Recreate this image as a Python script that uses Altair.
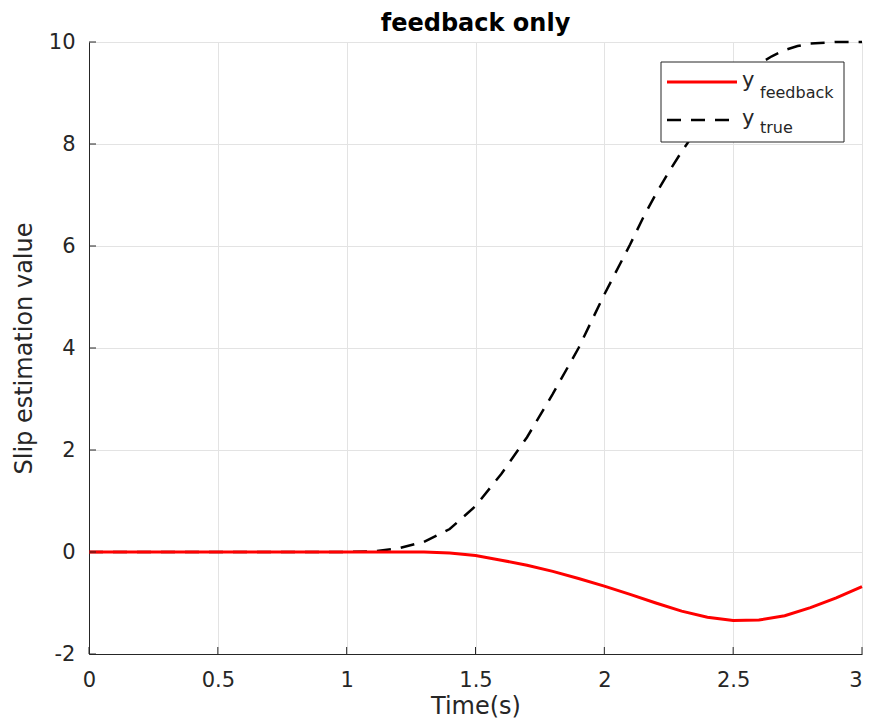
import altair as alt
import pandas as pd

# ---- data ----
t_true = [0.0, 0.5, 1.0, 1.1, 1.2, 1.3, 1.4, 1.5, 1.6, 1.7, 1.8, 1.9, 2.0,
          2.1, 2.15, 2.2, 2.25, 2.3, 2.35, 2.4, 2.45, 2.5, 2.55, 2.6, 2.65,
          2.7, 2.75, 2.8, 2.9, 3.0]
y_true = [0.0, 0.0, 0.0, 0.01, 0.07, 0.2, 0.45, 0.9, 1.53, 2.25, 3.1, 4.0, 5.05,
          6.03, 6.55, 7.02, 7.45, 7.85, 8.22, 8.57, 8.88, 9.15, 9.38, 9.57, 9.72,
          9.84, 9.92, 9.97, 10.0, 10.0]

t_fb = [0.0, 1.0, 1.3, 1.4, 1.5, 1.6, 1.7, 1.8, 1.9, 2.0, 2.1, 2.2, 2.3,
        2.4, 2.5, 2.6, 2.7, 2.8, 2.9, 3.0]
y_fb = [0.0, 0.0, 0.0, -0.02, -0.07, -0.16, -0.26, -0.38, -0.52, -0.67, -0.83, -1.0,
        -1.16, -1.28, -1.345, -1.335, -1.25, -1.09, -0.9, -0.68]

x_ticks = [0, 0.5, 1, 1.5, 2, 2.5, 3]
y_ticks = [-2, 0, 2, 4, 6, 8, 10]

title_text = "feedback only"
x_title = "Time(s)"
y_title = "Slip estimation value"
leg_main = ["y", "y"]
leg_sub = ["feedback", "true"]

W, H = 773, 612
FONT = "DejaVu Sans"
AX = "#262626"

df_true = pd.DataFrame({"t": t_true, "y": y_true})
df_fb = pd.DataFrame({"t": t_fb, "y": y_fb})
df_xt = pd.DataFrame({"t": x_ticks})
df_yt = pd.DataFrame({"y": y_ticks})
one = pd.DataFrame({"k": [0]})

xs = alt.Scale(domain=[0, 3], nice=False, zero=False)
ys = alt.Scale(domain=[-2, 10], nice=False, zero=False)

xaxis = alt.Axis(values=x_ticks, title=x_title, grid=True, gridColor="#e3e3e3",
                 labelExpr="'' + datum.value",
                 labelAlign={"expr": "datum.value == 3 ? 'right' : 'center'"},
                 tickSize=0, domainColor=AX, labelColor=AX, titleColor=AX,
                 labelFontSize=21, titleFontSize=24, labelPadding=15, titlePadding=4,
                 labelFont=FONT, titleFont=FONT, titleFontWeight="normal",
                 labelFlush=False)
yaxis = alt.Axis(values=y_ticks, title=y_title, grid=True, gridColor="#e3e3e3",
                 labelExpr="'' + datum.value",
                 tickSize=0, domainColor=AX, labelColor=AX, titleColor=AX,
                 labelFontSize=21, titleFontSize=24, labelPadding=14, titlePadding=12,
                 labelFont=FONT, titleFont=FONT, titleFontWeight="normal",
                 labelFlush=False)

base_true = alt.Chart(df_true).mark_line(color="black", strokeWidth=2.5,
                                         strokeDash=[14, 10]).encode(
    x=alt.X("t:Q", scale=xs, axis=xaxis),
    y=alt.Y("y:Q", scale=ys, axis=yaxis),
)
line_fb = alt.Chart(df_fb).mark_line(color="#ff0000", strokeWidth=3).encode(
    x=alt.X("t:Q", scale=xs),
    y=alt.Y("y:Q", scale=ys),
)

xticks = alt.Chart(df_xt).mark_rule(color=AX, strokeWidth=1).encode(
    x=alt.X("t:Q", scale=xs), y=alt.value(H), y2=alt.value(H - 7))
yticks = alt.Chart(df_yt).mark_rule(color=AX, strokeWidth=1).encode(
    y=alt.Y("y:Q", scale=ys), x=alt.value(0), x2=alt.value(7))

# legend (decoration)
lx0, lx1, ly0, ly1 = 572, 755, 20, 100
leg_box = alt.Chart(one).mark_rect(fill="white", stroke="#262626", strokeWidth=1).encode(
    x=alt.value(lx0), x2=alt.value(lx1), y=alt.value(ly0), y2=alt.value(ly1))
leg_red = alt.Chart(one).mark_rule(color="#ff0000", strokeWidth=3).encode(
    x=alt.value(578), x2=alt.value(648), y=alt.value(40))
leg_blk = alt.Chart(one).mark_rule(color="black", strokeWidth=2.5, strokeDash=[14, 10]).encode(
    x=alt.value(578), x2=alt.value(648), y=alt.value(78))
leg_y1 = alt.Chart(one).mark_text(text=leg_main[0], font=FONT, fontSize=21, color=AX,
                                  align="left", baseline="alphabetic").encode(
    x=alt.value(653), y=alt.value(45))
leg_s1 = alt.Chart(one).mark_text(text=leg_sub[0], font=FONT, fontSize=16, color=AX,
                                  align="left", baseline="alphabetic").encode(
    x=alt.value(671), y=alt.value(56))
leg_y2 = alt.Chart(one).mark_text(text=leg_main[1], font=FONT, fontSize=21, color=AX,
                                  align="left", baseline="alphabetic").encode(
    x=alt.value(653), y=alt.value(83))
leg_s2 = alt.Chart(one).mark_text(text=leg_sub[1], font=FONT, fontSize=16, color=AX,
                                  align="left", baseline="alphabetic").encode(
    x=alt.value(671), y=alt.value(91))

chart = alt.layer(
    base_true, line_fb, xticks, yticks,
    leg_box, leg_red, leg_blk, leg_y1, leg_s1, leg_y2, leg_s2
).properties(
    width=W, height=H,
    title=alt.TitleParams(title_text, font=FONT, fontSize=24, fontWeight="bold",
                          color="black", anchor="middle", offset=-5),
    autosize=alt.AutoSizeParams(type="none"),
    padding={"left": 81, "top": 34, "right": 2, "bottom": 65},
).configure_view(stroke=None).configure(background="white")

chart.save("out.html", embed_options={"renderer": "svg", "actions": False})
